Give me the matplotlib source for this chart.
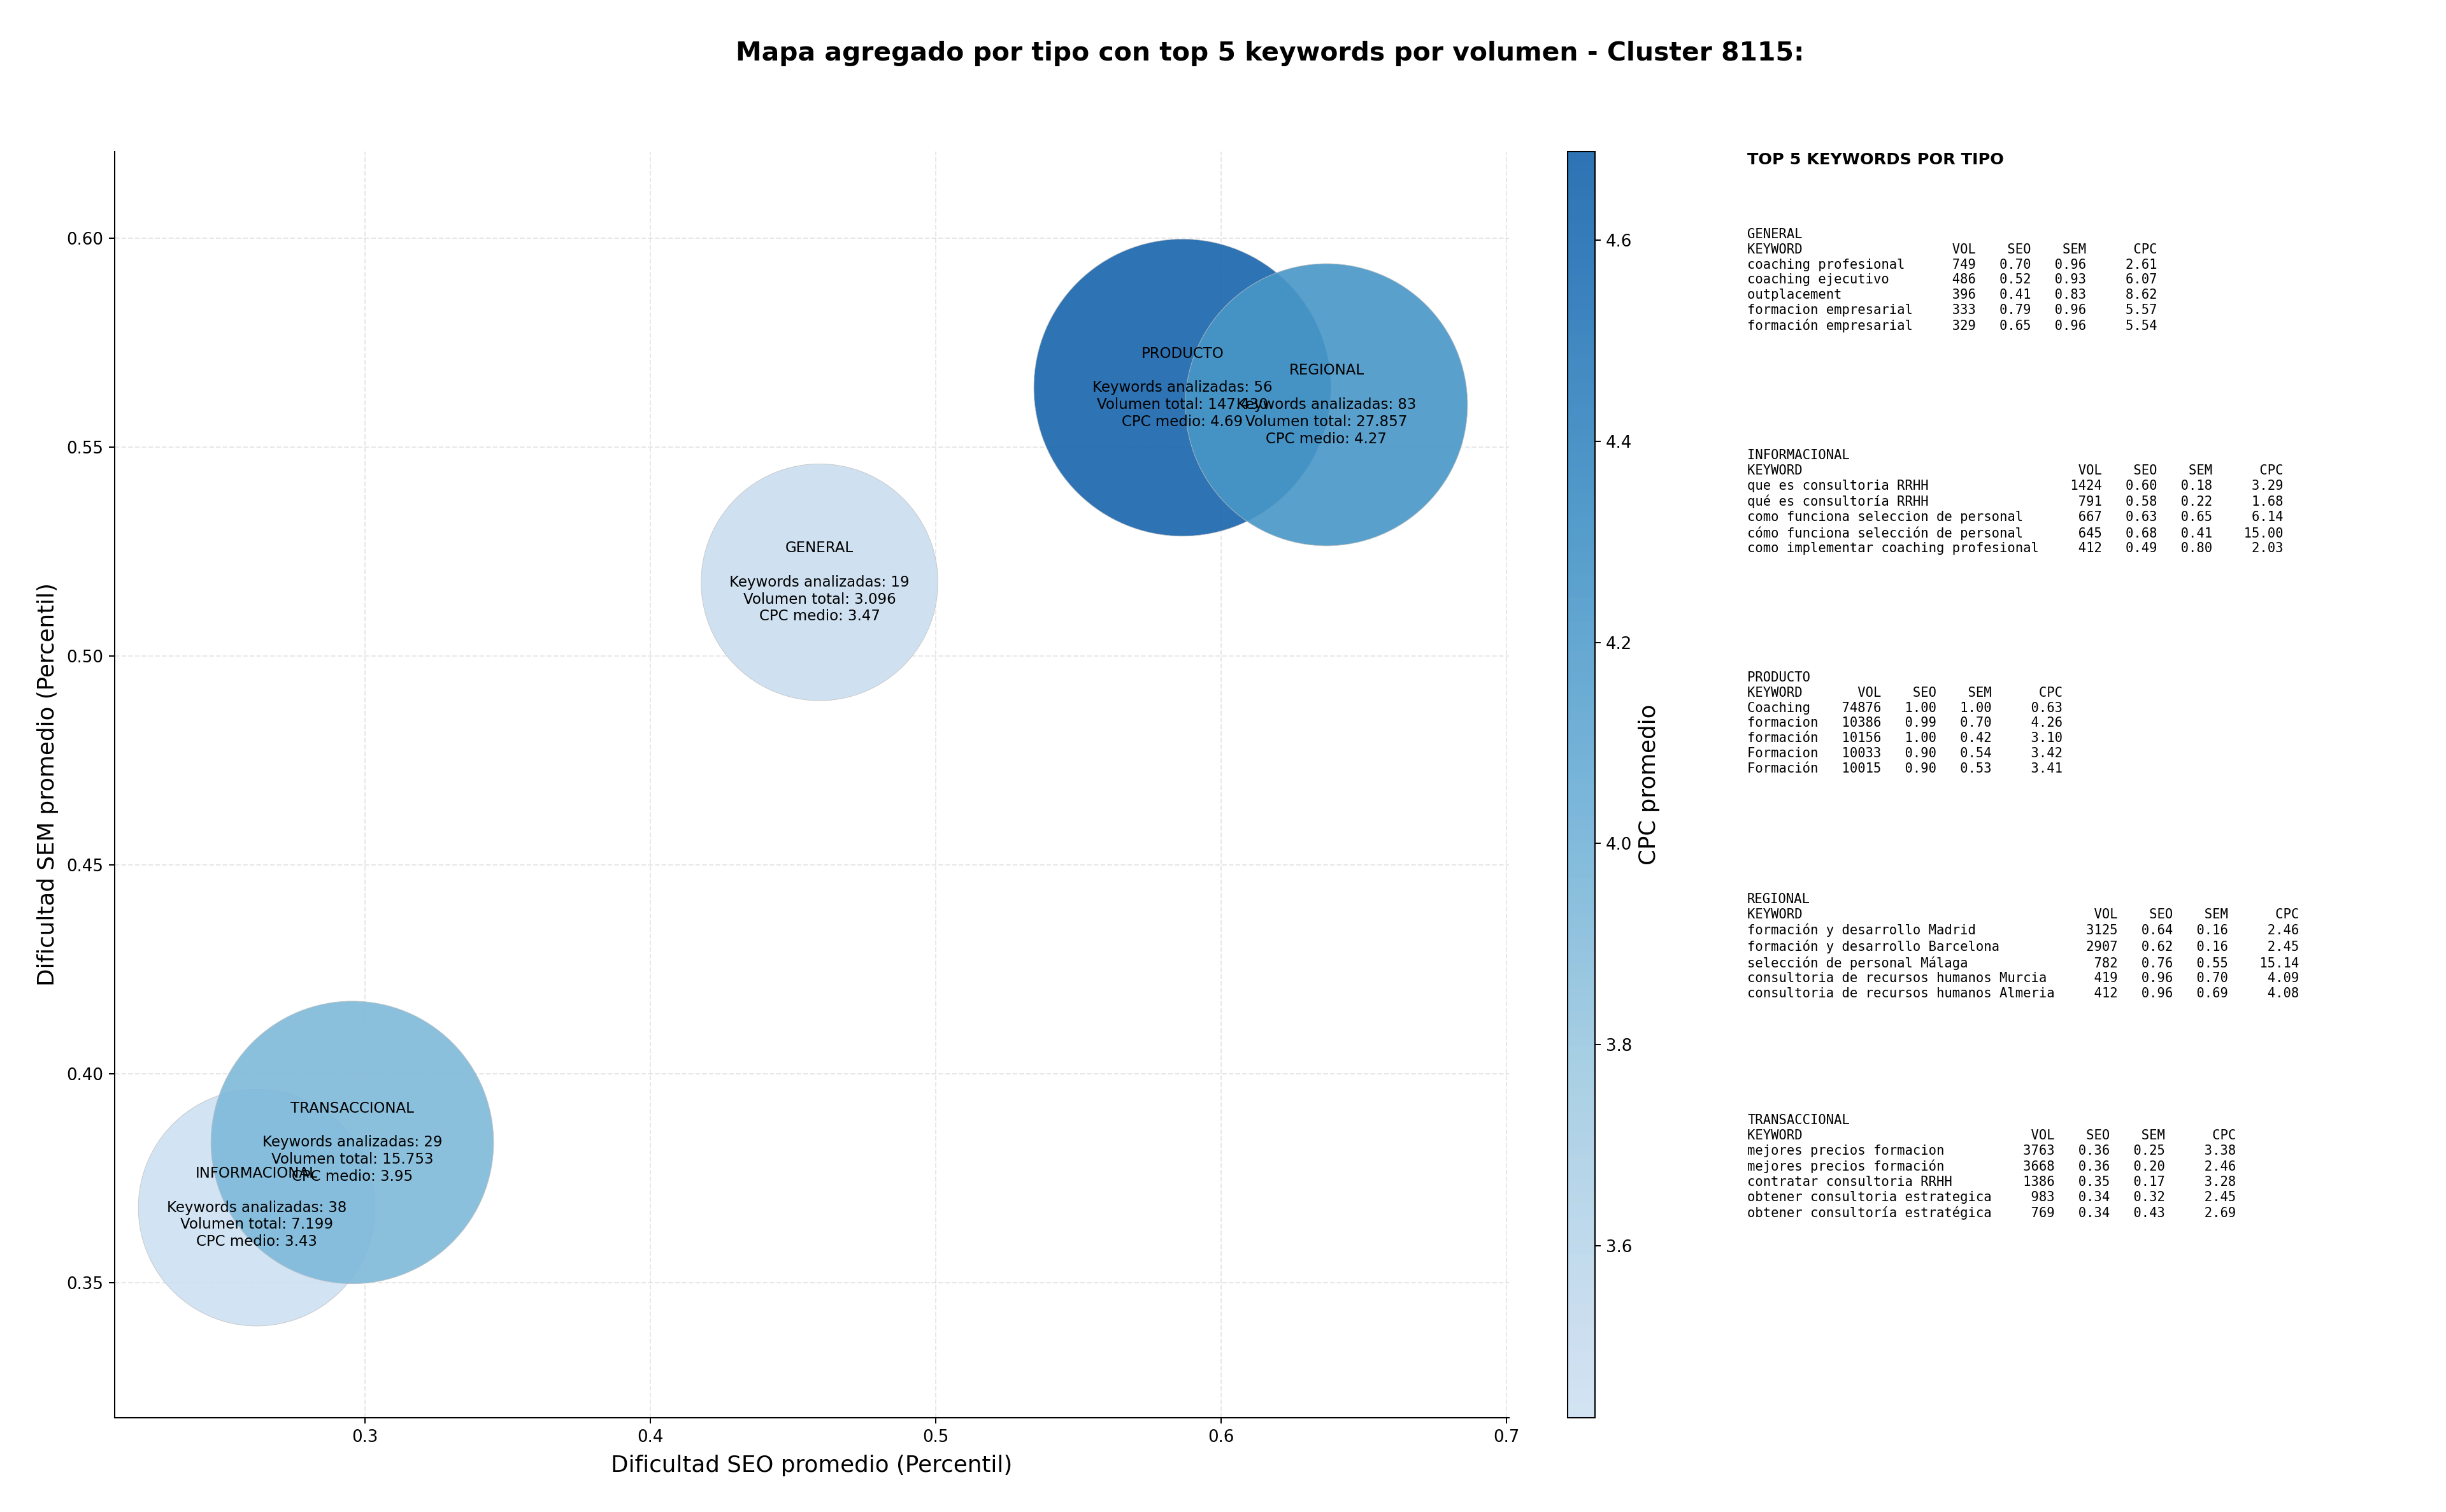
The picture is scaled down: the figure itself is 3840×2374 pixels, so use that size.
import numpy as np
import matplotlib
matplotlib.use('Agg')
import matplotlib.pyplot as plt
from matplotlib.colors import LinearSegmentedColormap, Normalize
from matplotlib.cm import ScalarMappable

W, H = 3840, 2374
DPI = 180

plt.rcParams['axes.linewidth'] = 0.82
plt.rcParams['xtick.labelsize'] = 10.4
plt.rcParams['ytick.labelsize'] = 10.4

# Aggregated values per keyword type
tipos = ['GENERAL', 'INFORMACIONAL', 'PRODUCTO', 'REGIONAL', 'TRANSACCIONAL']
seo = [0.4593, 0.262, 0.5865, 0.637, 0.2955]
sem = [0.5177, 0.368, 0.5643, 0.5602, 0.3836]
cpc = [3.47, 3.43, 4.69, 4.27, 3.95]
n_keywords = [19, 38, 56, 83, 29]
volumen = [3096, 7199, 147430, 27857, 15753]
sizes = [22100, 22100, 34800, 31400, 31500]
cpc_min, cpc_max = 3.429, 4.688

# Top 5 keywords per type: (keyword, vol, seo, sem, cpc)
top_general = [('coaching profesional', 749, 0.70, 0.96, 2.61),
               ('coaching ejecutivo', 486, 0.52, 0.93, 6.07),
               ('outplacement', 396, 0.41, 0.83, 8.62),
               ('formacion empresarial', 333, 0.79, 0.96, 5.57),
               ('formación empresarial', 329, 0.65, 0.96, 5.54)]
top_informacional = [('que es consultoria RRHH', 1424, 0.60, 0.18, 3.29),
                     ('qué es consultoría RRHH', 791, 0.58, 0.22, 1.68),
                     ('como funciona seleccion de personal', 667, 0.63, 0.65, 6.14),
                     ('cómo funciona selección de personal', 645, 0.68, 0.41, 15.00),
                     ('como implementar coaching profesional', 412, 0.49, 0.80, 2.03)]
top_producto = [('Coaching', 74876, 1.00, 1.00, 0.63),
                ('formacion', 10386, 0.99, 0.70, 4.26),
                ('formación', 10156, 1.00, 0.42, 3.10),
                ('Formacion', 10033, 0.90, 0.54, 3.42),
                ('Formación', 10015, 0.90, 0.53, 3.41)]
top_regional = [('formación y desarrollo Madrid', 3125, 0.64, 0.16, 2.46),
                ('formación y desarrollo Barcelona', 2907, 0.62, 0.16, 2.45),
                ('selección de personal Málaga', 782, 0.76, 0.55, 15.14),
                ('consultoria de recursos humanos Murcia', 419, 0.96, 0.70, 4.09),
                ('consultoria de recursos humanos Almeria', 412, 0.96, 0.69, 4.08)]
top_transaccional = [('mejores precios formacion', 3763, 0.36, 0.25, 3.38),
                     ('mejores precios formación', 3668, 0.36, 0.20, 2.46),
                     ('contratar consultoria RRHH', 1386, 0.35, 0.17, 3.28),
                     ('obtener consultoria estrategica', 983, 0.34, 0.32, 2.45),
                     ('obtener consultoría estratégica', 769, 0.34, 0.43, 2.69)]
tops = [top_general, top_informacional, top_producto, top_regional, top_transaccional]

# Blues, without the very light and very dark ends
cmap = LinearSegmentedColormap.from_list('blues_mid', plt.cm.Blues(np.linspace(0.21, 0.8, 256)))
norm = Normalize(vmin=cpc_min, vmax=cpc_max)


def box(x0, y0, x1, y1):
    # pixel box (top-left origin) to figure fractions
    return [x0 / W, 1 - y1 / H, (x1 - x0) / W, (y1 - y0) / H]


fig = plt.figure(figsize=(W / DPI, H / DPI), dpi=DPI)
ax = fig.add_axes(box(180, 238, 2369, 2226))
cax = fig.add_axes(box(2461, 238, 2503.5, 2226))

ax.scatter(seo, sem, s=sizes, c=cpc, cmap=cmap, norm=norm, alpha=0.9,
           edgecolors='silver', linewidths=0.35, zorder=2)

for i, t in enumerate(tipos):
    vol_txt = f'{volumen[i]:,}'.replace(',', '.')
    label = f'{t}\n\nKeywords analizadas: {n_keywords[i]}\nVolumen total: {vol_txt}\nCPC medio: {cpc[i]:.2f}'
    ax.text(seo[i], sem[i], label, ha='center', va='center', fontsize=9.15, linespacing=1.21, zorder=3)

ax.set_xlim(0.2122, 0.701)
ax.set_ylim(0.3177, 0.6208)
ax.set_xticks([0.3, 0.4, 0.5, 0.6, 0.7])
ax.set_yticks([0.35, 0.40, 0.45, 0.50, 0.55, 0.60])
ax.grid(True, linestyle='--', alpha=0.3, zorder=0)
ax.set_axisbelow(True)
ax.spines['top'].set_visible(False)
ax.spines['right'].set_visible(False)
ax.set_xlabel('Dificultad SEO promedio (Percentil)', fontsize=14.27, labelpad=6)
ax.set_ylabel('Dificultad SEM promedio (Percentil)', fontsize=14.27, labelpad=5)

cb = fig.colorbar(ScalarMappable(norm=norm, cmap=cmap), cax=cax, alpha=0.9)
cb.set_ticks([3.6, 3.8, 4.0, 4.2, 4.4, 4.6])
cb.set_label('CPC promedio', fontsize=14.27)

fig.text(1994 / W, 1 - 84 / H, 'Mapa agregado por tipo con top 5 keywords por volumen - Cluster 8115:',
         ha='center', va='center', fontsize=16.33, fontweight='bold')

# Right hand panel
TX = 2743 / W
fig.text(TX, 1 - 239 / H, 'TOP 5 KEYWORDS POR TIPO', ha='left', va='top', fontsize=10.2, fontweight='bold')
y_blocks = [358, 705, 1054, 1402, 1749]
for i, t in enumerate(tipos):
    w = max(len(r[0]) for r in tops[i])
    lines = [t, f"{'KEYWORD':<{w}} {'VOL':>7} {'SEO':>6} {'SEM':>6} {'CPC':>8}"]
    for r in tops[i]:
        lines.append(f'{r[0]:<{w}} {r[1]:>7} {r[2]:>6.2f} {r[3]:>6.2f} {r[4]:>8.2f}')
    fig.text(TX, 1 - y_blocks[i] / H, '\n'.join(lines), ha='left', va='top',
             fontsize=8.23, linespacing=1.235, family='monospace')

fig.savefig('out.png', dpi=DPI)
